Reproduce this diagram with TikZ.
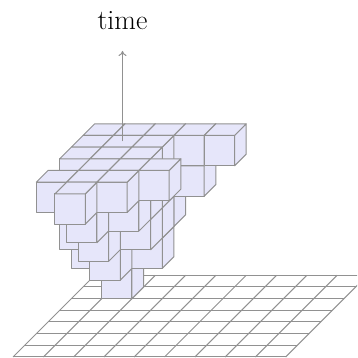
\documentclass[tikz,border=0pt]{standalone}
\usepackage{fontspec}
\usetikzlibrary{arrows.meta}
\definecolor{edgegray}{RGB}{145,145,145}
\definecolor{cubefill}{RGB}{230,230,250}
\tikzset{
  gridline/.style={draw=edgegray,line width=1pt},
  cubeface/.style={draw=edgegray,fill=cubefill,line width=1pt,line join=round},
  timearrow/.style={draw=edgegray,line width=1pt,-{To[length=5pt,width=8pt]}},
}
\newcommand{\cubeat}[3]{%
  \filldraw[cubeface] (#1,#2,#3) -- ++(1,0,0) -- ++(0,0,1) -- ++(-1,0,0) -- cycle;
  \filldraw[cubeface] (#1+1,#2,#3) -- ++(0,1,0) -- ++(0,0,1) -- ++(0,-1,0) -- cycle;
  \filldraw[cubeface] (#1,#2,#3+1) -- ++(1,0,0) -- ++(0,1,0) -- ++(-1,0,0) -- cycle;
}
\begin{document}
\begin{tikzpicture}[x=1pt,y=1pt]
\useasboundingbox (0,0) rectangle (357,358);
\clip (0,0) rectangle (357,358);
\begin{scope}[shift={(13pt,1pt)},x={(30.3pt,0pt)},y={(11.67pt,11.67pt)},z={(0pt,30.3pt)}]
  \foreach \j in {0,...,7} \draw[gridline] (0,\j,0) -- (9,\j,0);
  \foreach \i in {0,...,9} \draw[gridline] (\i,0,0) -- (\i,7,0);
  \foreach \a/\b/\c in {
    2/6/2, 3/6/3, 0/6/4,1/6/4,2/6/4,3/6/4,4/6/4,
    1/5/0, 0/5/1,1/5/1,2/5/1, 1/5/2,2/5/2, 2/5/3, 0/5/4,1/5/4,2/5/4,
    1/4/1, 0/4/2,1/4/2,2/4/2, 2/4/3, 0/4/4,1/4/4,2/4/4,
    1/3/2, 1/3/3,2/3/3, 1/3/4,2/3/4,3/3/4,
    1/2/3, 0/2/4,1/2/4,2/2/4,
    1/1/4}
    {\cubeat{\a}{\b}{\c}}
\end{scope}
\coordinate (base) at (122.5,216.5);
\coordinate (tip) at (122.5,307);
\draw[timearrow] (base) -- (tip);
\node[inner sep=0pt,anchor=base] (timelabel) at (122.5,328) {\fontsize{28}{32}\selectfont time};
\end{tikzpicture}
\end{document}
